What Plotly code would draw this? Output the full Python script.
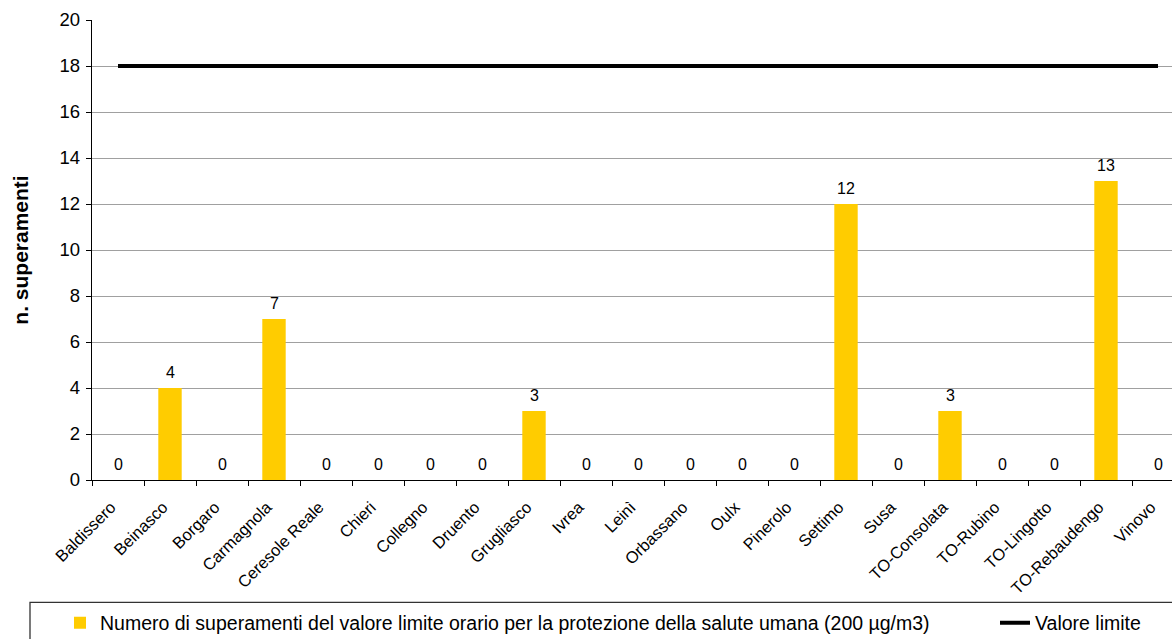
import plotly.graph_objects as go

categories = ["Baldissero", "Beinasco", "Borgaro", "Carmagnola", "Ceresole Reale", "Chieri",
              "Collegno", "Druento", "Grugliasco", "Ivrea", "Leinì", "Orbassano", "Oulx",
              "Pinerolo", "Settimo", "Susa", "TO-Consolata", "TO-Rubino", "TO-Lingotto",
              "TO-Rebaudengo", "Vinovo"]
superamenti = [0, 4, 0, 7, 0, 0, 0, 0, 3, 0, 0, 0, 0, 0, 12, 0, 3, 0, 0, 13, 0]
valore_limite = [18] * len(categories)

bar_name = "Numero di superamenti del valore limite orario per la protezione della salute umana (200 µg/m3)"
line_name = "Valore limite"

W, H = 1172, 639
L, T, B = 92, 19.5, 159
plot_w = W - L
plot_h = H - T - B
FONT = "Liberation Sans, Arial"

fig = go.Figure()
fig.add_trace(go.Bar(x=categories, y=superamenti, name=bar_name, legend="legend",
                     marker=dict(color="#FFCC00", line=dict(width=0)), width=0.45))
fig.add_trace(go.Scatter(x=categories, y=valore_limite, name=line_name, mode="lines",
                         legend="legend2", line=dict(color="black", width=4)))

for c, v in zip(categories, superamenti):
    fig.add_annotation(x=c, y=v, text=str(v), showarrow=False, yanchor="middle", yshift=16,
                       font=dict(family=FONT, size=16, color="black"))

# legend frame
fig.add_shape(type="rect", xref="paper", yref="paper",
              x0=(30 - L) / plot_w, x1=1.2,
              y0=-(H + 20 - (H - B)) / plot_h, y1=-(602.5 - (H - B)) / plot_h,
              line=dict(color="#333333", width=1.3), fillcolor="rgba(0,0,0,0)", layer="above")

legend_common = dict(orientation="h", xref="container", yref="container",
                     xanchor="left", y=1 - 623 / H, yanchor="middle",
                     font=dict(family=FONT, size=19.5, color="black"),
                     bgcolor="rgba(0,0,0,0)", borderwidth=0, itemwidth=30)

fig.update_layout(
    width=W, height=H,
    margin=dict(l=L, r=0, t=T, b=B, pad=0),
    paper_bgcolor="white", plot_bgcolor="white",
    font=dict(family=FONT, color="black"),
    showlegend=True,
    legend=dict(x=60 / W, **legend_common),
    legend2=dict(x=995 / W, **legend_common),
    xaxis=dict(range=[-0.5, -0.5 + plot_w / 52], tickangle=-45, showgrid=False,
               showline=True, linecolor="black", linewidth=1.3,
               ticks="outside", ticklen=5, tickcolor="black", tickson="boundaries",
               tickfont=dict(size=16.5), ticklabelstandoff=10, ticklabelshift=-7),
    yaxis=dict(range=[0, 20], dtick=2, showgrid=True, gridcolor="#A0A0A0", gridwidth=1,
               showline=True, linecolor="black", linewidth=1.3, zeroline=False,
               ticks="outside", ticklen=5, tickcolor="black", tickfont=dict(size=18.5),
               ticklabelstandoff=2,
               title=dict(text="<b>n. superamenti</b>", font=dict(size=21), standoff=25)),
    bargap=0.55,
)

fig.write_html("out.html")
